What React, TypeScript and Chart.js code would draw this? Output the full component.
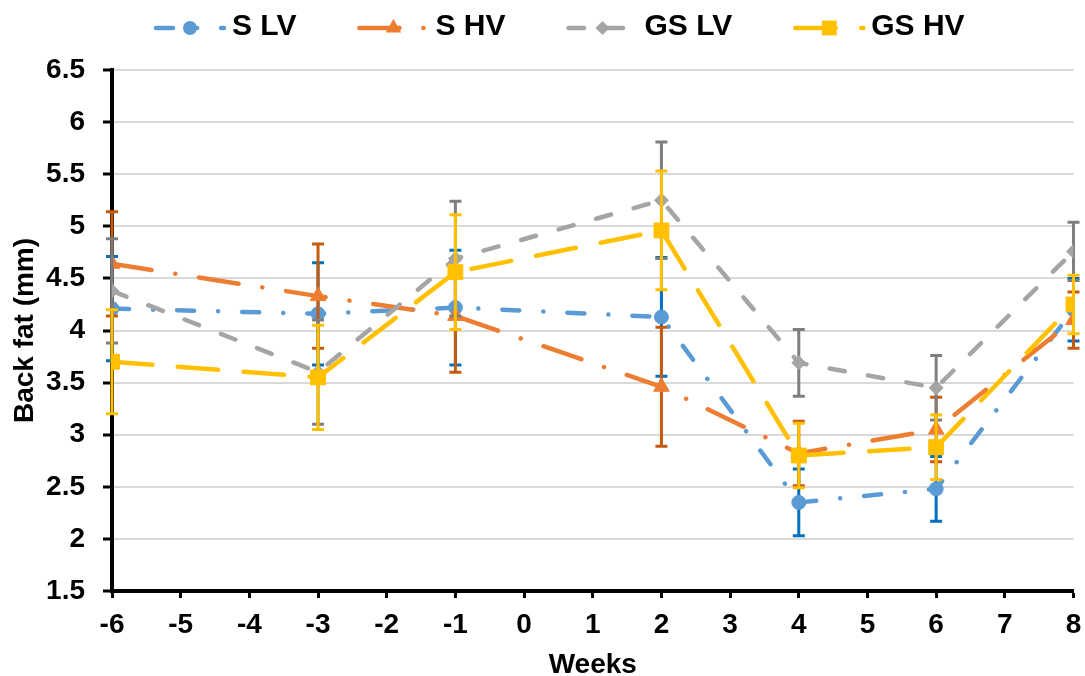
import React, { useEffect, useRef } from 'react';
import { Chart, registerables } from 'chart.js';

Chart.register(...registerables);

// ---------- data ----------
const weeks = [-6, -3, -1, 2, 4, 6, 8];
const seriesNames = ['S LV', 'S HV', 'GS LV', 'GS HV'];
const sLV = [4.21, 4.16, 4.22, 4.13, 2.35, 2.48, 4.2];
const sLVErr = [0.5, 0.49, 0.55, 0.57, 0.32, 0.31, 0.3];
const sHV = [4.64, 4.33, 4.14, 3.46, 2.82, 3.05, 4.1];
const sHVErr = [0.5, 0.5, 0.54, 0.57, 0.31, 0.31, 0.27];
const gsLV = [4.38, 3.6, 4.69, 5.25, 3.69, 3.45, 4.76];
const gsLVErr = [0.5, 0.5, 0.55, 0.56, 0.32, 0.31, 0.28];
const gsHV = [3.7, 3.55, 4.56, 4.96, 2.8, 2.88, 4.25];
const gsHVErr = [0.5, 0.5, 0.55, 0.57, 0.31, 0.31, 0.28];
const xMin = -6;
const xMax = 8;
const xStep = 1;
const yMin = 1.5;
const yMax = 6.5;
const yStep = 0.5;
const xTitle = 'Weeks';
const yTitle = 'Back fat (mm)';

const seriesValues = [sLV, sHV, gsLV, gsHV];
const seriesErrors = [sLVErr, sHVErr, gsLVErr, gsHVErr];

// ---------- styles ----------
const FONT = '"Liberation Sans", Arial, sans-serif';
const colors = ['#5B9BD5', '#ED7D31', '#A5A5A5', '#FFC000'];
const errColors = ['#0070C0', '#C55A11', '#7F7F7F', '#FFC000'];
const dashes = [
  [17, 24, 0.1, 24],
  [40, 24, 0.1, 24],
  [15.5, 23.5],
  [40.5, 25.5],
];
const pointStyles = ['circle', 'triangle', 'rectRot', 'rect'];
const pointRadii = [7, 9, 7, 10.5];

function drawMarker(ctx: CanvasRenderingContext2D, style: string, x: number, y: number, r: number, color: string) {
  ctx.save();
  ctx.fillStyle = color;
  ctx.beginPath();
  if (style === 'circle') {
    ctx.arc(x, y, r, 0, Math.PI * 2);
  } else if (style === 'triangle') {
    ctx.moveTo(x, y - r);
    ctx.lineTo(x + r * Math.sin((2 * Math.PI) / 3), y + r / 2);
    ctx.lineTo(x - r * Math.sin((2 * Math.PI) / 3), y + r / 2);
    ctx.closePath();
  } else if (style === 'rectRot') {
    ctx.moveTo(x, y - r);
    ctx.lineTo(x + r, y);
    ctx.lineTo(x, y + r);
    ctx.lineTo(x - r, y);
    ctx.closePath();
  } else {
    const s = r * Math.SQRT1_2;
    ctx.rect(x - s, y - s, 2 * s, 2 * s);
  }
  ctx.fill();
  ctx.restore();
}

const errorBarPlugin = {
  id: 'errorBars',
  beforeDatasetDraw(chart: any, args: any) {
    const i = args.index;
    const errs = seriesErrors[i];
    const vals = seriesValues[i];
    if (!errs) return;
    const ctx = chart.ctx as CanvasRenderingContext2D;
    const yScale = chart.scales.y;
    ctx.save();
    ctx.strokeStyle = errColors[i];
    ctx.lineWidth = 3;
    ctx.lineCap = 'butt';
    args.meta.data.forEach((pt: any, j: number) => {
      const x = pt.x;
      const yTop = yScale.getPixelForValue(vals[j] + errs[j]);
      const yBot = yScale.getPixelForValue(vals[j] - errs[j]);
      ctx.beginPath();
      ctx.moveTo(x, yTop);
      ctx.lineTo(x, yBot);
      ctx.moveTo(x - 6, yTop);
      ctx.lineTo(x + 6, yTop);
      ctx.moveTo(x - 6, yBot);
      ctx.lineTo(x + 6, yBot);
      ctx.stroke();
    });
    ctx.restore();
  },
};

const legendPlugin = {
  id: 'customLegend',
  afterDraw(chart: any) {
    const ctx = chart.ctx as CanvasRenderingContext2D;
    ctx.save();
    ctx.font = `bold 30px ${FONT}`;
    let sx = 154;
    const y = 27;
    seriesNames.forEach((name, i) => {
      ctx.strokeStyle = colors[i];
      ctx.lineWidth = 4.5;
      ctx.lineCap = 'round';
      ctx.setLineDash(dashes[i]);
      ctx.beginPath();
      ctx.moveTo(sx + 2, y + 1);
      ctx.lineTo(sx + 70, y + 1);
      ctx.stroke();
      ctx.setLineDash([]);
      drawMarker(ctx, pointStyles[i], sx + 36, y + 1, pointRadii[i], colors[i]);
      ctx.fillStyle = '#000';
      ctx.textAlign = 'left';
      ctx.textBaseline = 'middle';
      ctx.fillText(name, sx + 78, y);
      const w = ctx.measureText(name).width;
      sx += 78 + w + 61;
    });
    ctx.restore();
  },
};

export default function App() {
  const canvasRef = useRef<HTMLCanvasElement | null>(null);

  useEffect(() => {
    if (!canvasRef.current) return;
    const datasets = seriesNames.map((name, i) => ({
      label: name,
      data: weeks.map((w, j) => ({ x: w, y: seriesValues[i][j] })),
      borderColor: colors[i],
      backgroundColor: colors[i],
      borderWidth: 4.5,
      borderDash: dashes[i],
      borderCapStyle: 'round' as const,
      borderJoinStyle: 'round' as const,
      pointStyle: pointStyles[i] as any,
      pointRadius: pointRadii[i],
      pointBackgroundColor: colors[i],
      pointBorderColor: colors[i],
      pointBorderWidth: 1,
      tension: 0,
      order: 3 - i,
    }));

    const chart = new Chart(canvasRef.current, {
      type: 'line',
      data: { datasets },
      options: {
        animation: false,
        responsive: false,
        devicePixelRatio: 1,
        layout: { padding: { top: 70, right: 10, bottom: 0, left: 0 } },
        plugins: {
          legend: { display: false },
          tooltip: { enabled: false },
        },
        scales: {
          x: {
            type: 'linear',
            min: xMin,
            max: xMax,
            afterFit: (scale: any) => {
              scale.height = 85;
              scale.paddingLeft = 0;
              scale.paddingRight = 0;
            },
            ticks: {
              stepSize: xStep,
              color: '#000',
              padding: 10,
              font: { family: FONT, size: 28, weight: 'bold' },
            },
            grid: {
              drawOnChartArea: false,
              color: '#000',
              tickColor: '#000',
              tickLength: 7,
              tickWidth: 3,
            },
            border: { color: '#000', width: 4 },
            title: {
              display: true,
              text: xTitle,
              color: '#000',
              padding: { top: 0, bottom: -6 },
              font: { family: FONT, size: 28, weight: 'bold' },
            },
          },
          y: {
            type: 'linear',
            min: yMin,
            max: yMax,
            afterFit: (scale: any) => {
              scale.width = 112;
            },
            ticks: {
              stepSize: yStep,
              color: '#000',
              padding: 18,
              font: { family: FONT, size: 28, weight: 'bold' },
              callback: (v: any) => String(Number(Number(v).toFixed(2))),
            },
            grid: {
              color: '#D9D9D9',
              lineWidth: 2,
              tickColor: '#000',
              tickLength: 9,
              tickWidth: 3,
            },
            border: { color: '#000', width: 4 },
            title: {
              display: true,
              text: yTitle,
              color: '#000',
              padding: { top: 8, bottom: 0 },
              font: { family: FONT, size: 28, weight: 'bold' },
            },
          },
        },
      },
      plugins: [errorBarPlugin, legendPlugin],
    });
    return () => chart.destroy();
  }, []);

  return (
    <div style={{ position: 'fixed', left: 0, top: 0, width: 1085, height: 676, background: '#fff' }}>
      <canvas ref={canvasRef} width={1085} height={676} style={{ display: 'block' }} />
    </div>
  );
}
